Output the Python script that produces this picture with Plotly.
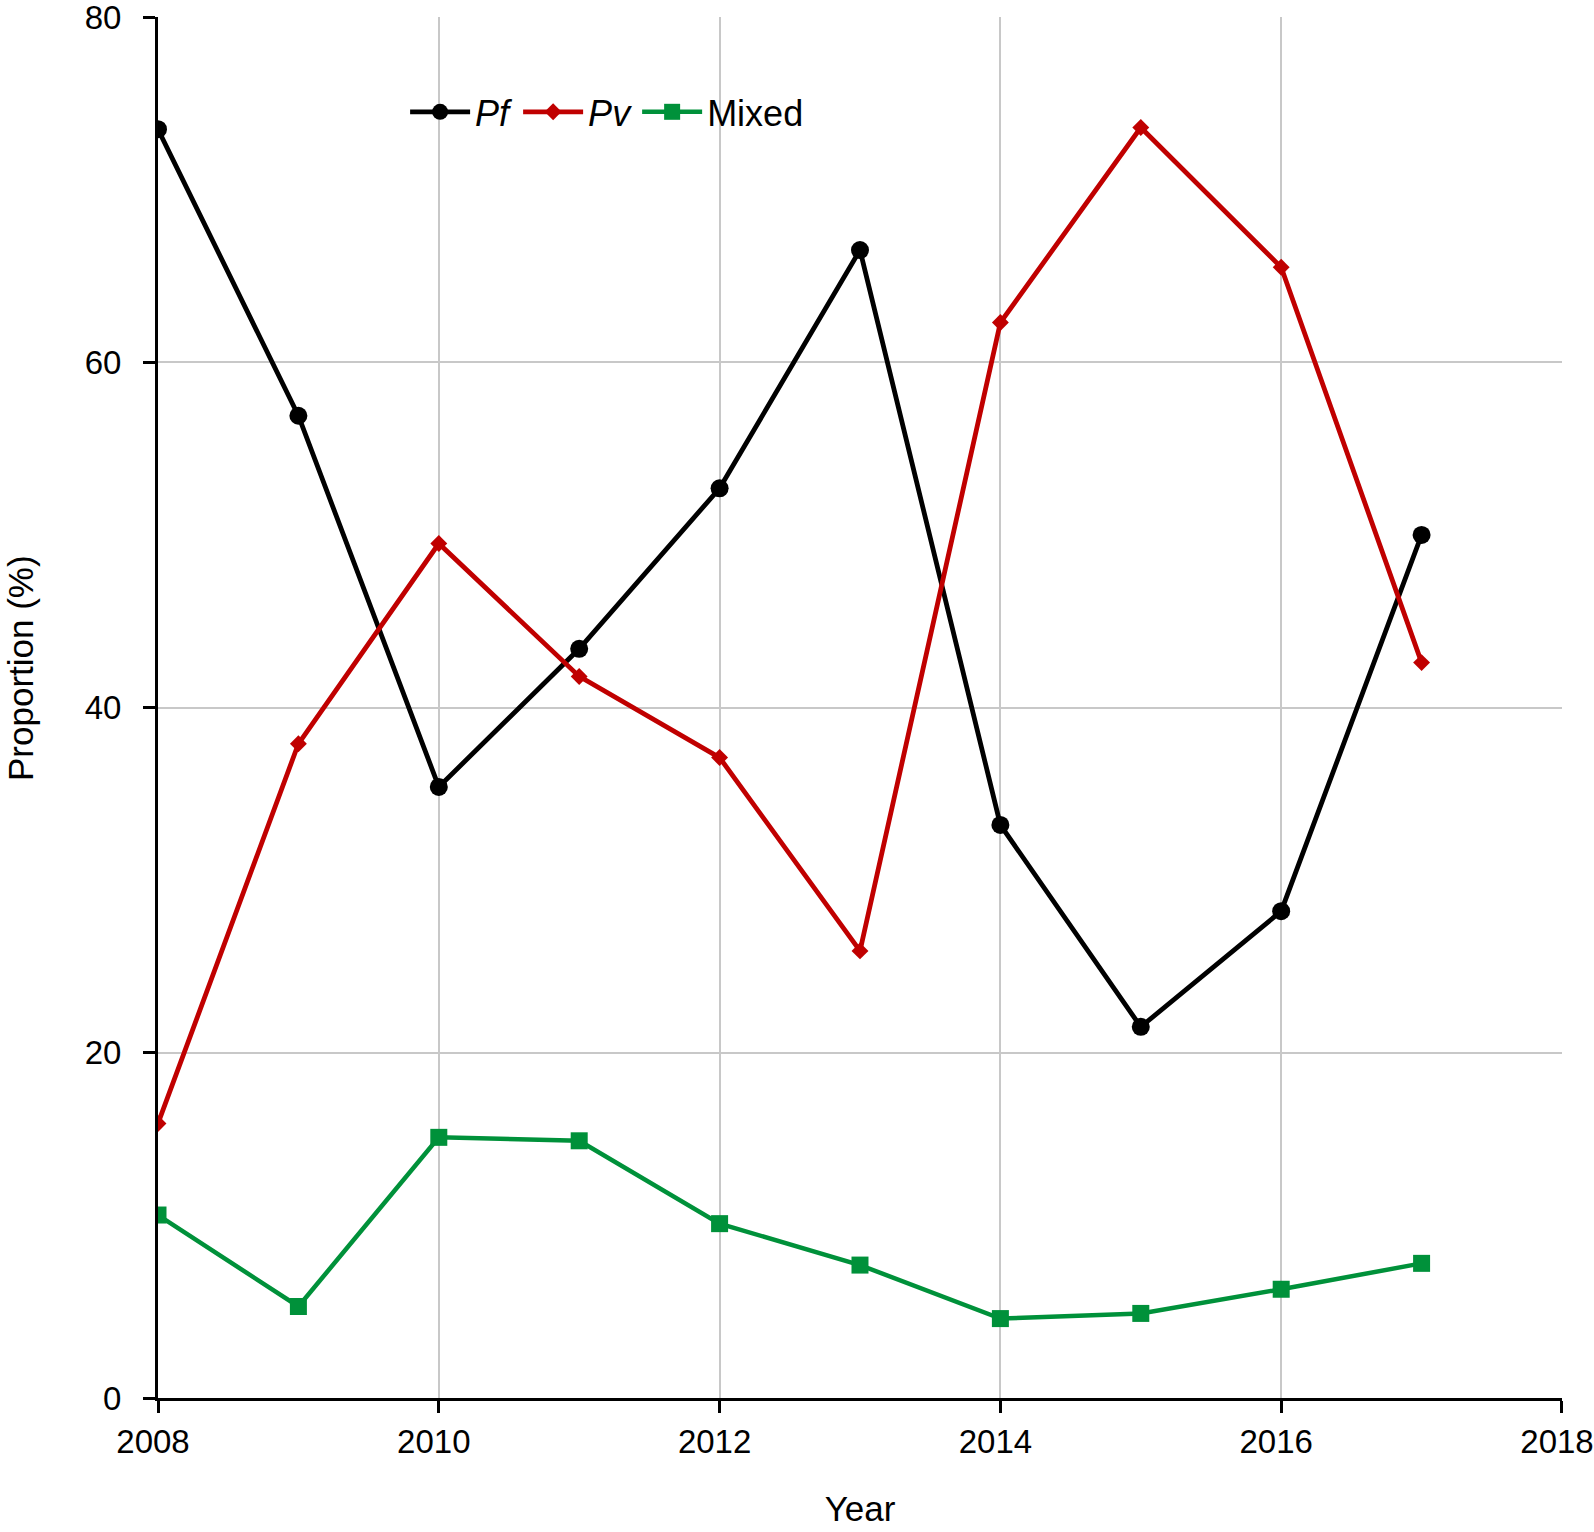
import plotly.graph_objects as go

# Data
years = [2008, 2009, 2010, 2011, 2012, 2013, 2014, 2015, 2016, 2017]
pf = [73.5, 56.9, 35.4, 43.4, 52.7, 66.5, 33.2, 21.5, 28.2, 50.0]
pv = [15.9, 37.9, 49.5, 41.8, 37.1, 25.9, 62.3, 73.6, 65.5, 42.6]
mixed = [10.6, 5.3, 15.1, 14.9, 10.1, 7.7, 4.6, 4.9, 6.3, 7.8]

x_ticks = [2008, 2010, 2012, 2014, 2016, 2018]
y_ticks = [0, 20, 40, 60, 80]

colors = {'pf': '#000000', 'pv': '#C00000', 'mixed': '#00913A'}
font_family = 'Liberation Sans, Arial, sans-serif'


def axis_style(**kwargs):
    """
    Shared look of both axes.
    """
    style = dict(
        tickmode='array',
        automargin=False,
        showgrid=True,
        gridcolor='#C8C8C8',
        gridwidth=2,
        zeroline=False,
        showline=True,
        linecolor='black',
        linewidth=3,
        ticks='outside',
        ticklen=12,
        tickwidth=3,
        tickcolor='black',
        tickfont=dict(size=33),
        ticklabeloverflow='allow',
    )
    style.update(kwargs)
    return style


def main():
    fig = go.Figure()

    fig.add_trace(go.Scatter(
        x=years, y=pf, name='<i>Pf</i>', mode='lines+markers',
        line=dict(color=colors['pf'], width=4.8),
        marker=dict(symbol='circle', size=18, color=colors['pf'])
    ))
    fig.add_trace(go.Scatter(
        x=years, y=pv, name='<i>Pv</i>', mode='lines+markers',
        line=dict(color=colors['pv'], width=4.8),
        marker=dict(symbol='diamond', size=13, color=colors['pv'])
    ))
    fig.add_trace(go.Scatter(
        x=years, y=mixed, name='Mixed', mode='lines+markers',
        line=dict(color=colors['mixed'], width=4.5),
        marker=dict(symbol='square', size=17, color=colors['mixed'])
    ))

    fig.update_layout(
        width=1594,
        height=1532,
        paper_bgcolor='white',
        plot_bgcolor='white',
        font=dict(family=font_family, size=33, color='black'),
        margin=dict(l=158, r=32, t=17, b=134),
        showlegend=True,
        legend=dict(
            orientation='h',
            x=0.176, y=0.953,
            xanchor='left', yanchor='top',
            bgcolor='rgba(0,0,0,0)',
            font=dict(size=36),
            itemwidth=60,
            tracegroupgap=0,
        ),
        xaxis=axis_style(
            range=[2008, 2018.0001],
            tickvals=x_ticks,
            ticklabelshift=-5,
            title=dict(text='Year', font=dict(size=35), standoff=38),
        ),
        yaxis=axis_style(
            range=[0, 80.0001],
            tickvals=y_ticks,
            ticklabelstandoff=15,
        ),
        annotations=[dict(
            text='Proportion (%)',
            xref='paper', yref='paper',
            x=-0.0983, y=0.5286,
            xanchor='center', yanchor='middle',
            textangle=-90,
            showarrow=False,
            font=dict(size=35),
        )],
    )

    # drop the page's default body margin so the figure fills the window
    fig.write_html(
        'out.html',
        config={'displayModeBar': False},
        post_script="document.body.style.margin = '0';",
    )


if __name__ == '__main__':
    main()
